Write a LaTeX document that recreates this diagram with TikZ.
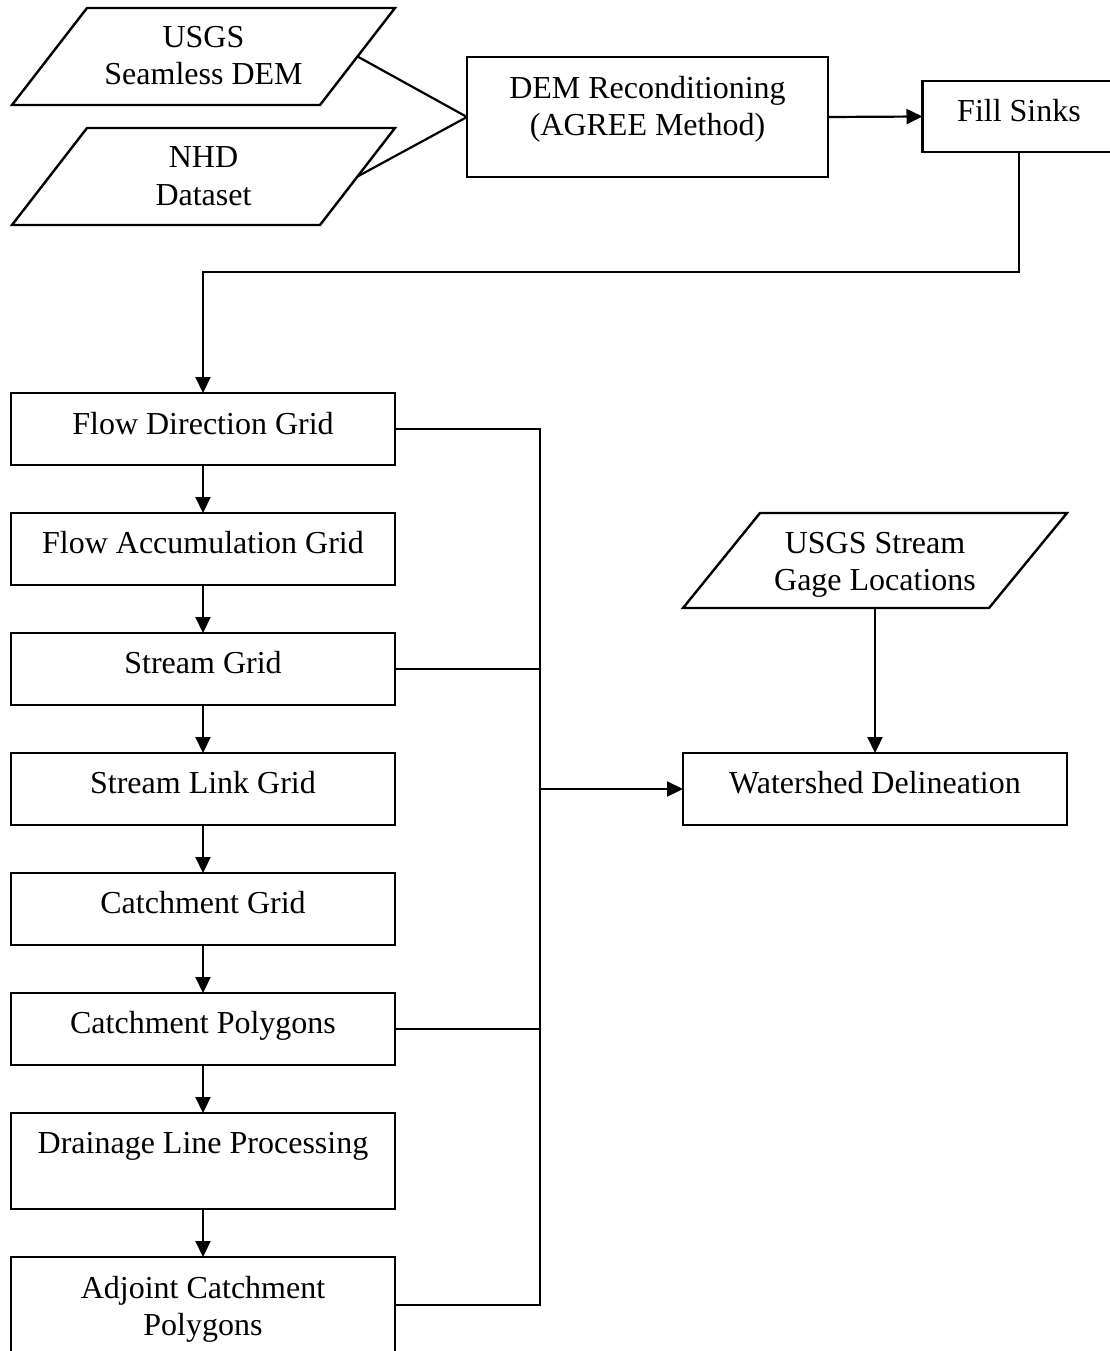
\documentclass[tikz,border=0pt]{standalone}
\usepackage{fontspec}
\setmainfont{Liberation Serif}
\usetikzlibrary{arrows.meta}
\begin{document}
\begin{tikzpicture}[x=1pt,y=-1pt,
  every node/.style={inner sep=0pt, outer sep=0pt},
  boxnode/.style={draw, line width=2.4pt, rectangle, anchor=north west},
  stdbox/.style={boxnode, minimum width=384pt, minimum height=72pt},
  txt/.style={anchor=base, align=center, font=\fontsize{32}{37}\selectfont},
  conn/.style={line width=2.2pt},
  arr/.style={line width=2.2pt, -{Triangle[length=16pt,width=15pt]}},
  para/.style={draw, line width=2.4pt, line join=miter}
]
\useasboundingbox (0,0) rectangle (1110,1351);

% ---- input parallelograms (top left) ----
% (two-line texts: the base anchor is the baseline of the last line)
\draw[para] (12,105) -- (87,8) -- (395,8) -- (320,105) -- cycle;
\node[txt] (usgs) at (203.5,85) {USGS\\Seamless DEM};
\coordinate (usgsR) at (357.5,56.5);

\draw[para] (12,225) -- (87,128) -- (395,128) -- (320,225) -- cycle;
\node[txt] (nhd) at (203.5,205) {NHD\\Dataset};
\coordinate (nhdR) at (357.5,176.5);

% ---- DEM reconditioning and fill sinks ----
\node[boxnode, minimum width=361pt, minimum height=120pt] (dem) at (467,57) {};
\node[txt] (demT) at ([yshift=-79pt]dem.north) {DEM Reconditioning\\(AGREE Method)};

\node[boxnode, minimum width=193pt, minimum height=71pt] (fs) at (922.5,81) {};
\node[txt] (fsT) at ([yshift=-41pt]fs.north) {Fill Sinks};

% ---- left column ----
\node[stdbox] (fd) at (11,393) {};
\node[txt] (fdT) at ([yshift=-41pt]fd.north) {Flow Direction Grid};
\node[stdbox] (fa) at (11,513) {};
\node[txt] (faT) at ([yshift=-40pt]fa.north) {Flow Accumulation Grid};
\node[stdbox] (sg) at (11,633) {};
\node[txt] (sgT) at ([yshift=-40pt]sg.north) {Stream Grid};
\node[stdbox] (sl) at (11,753) {};
\node[txt] (slT) at ([yshift=-40pt]sl.north) {Stream Link Grid};
\node[stdbox] (cg) at (11,873) {};
\node[txt] (cgT) at ([yshift=-40pt]cg.north) {Catchment Grid};
\node[stdbox] (cp) at (11,993) {};
\node[txt] (cpT) at ([yshift=-40pt]cp.north) {Catchment Polygons};
\node[stdbox, minimum height=96pt] (dl) at (11,1113) {};
\node[txt] (dlT) at ([yshift=-40pt]dl.north) {Drainage Line Processing};
\node[stdbox, minimum height=96pt] (ac) at (11,1257) {};
\node[txt] (acT) at ([yshift=-78pt]ac.north) {Adjoint Catchment\\Polygons};

% ---- right side ----
\draw[para] (683,608) -- (760,513) -- (1067,513) -- (989,608) -- cycle;
\node[txt] (gage) at (875,590) {USGS Stream\\Gage Locations};
\coordinate (gageS) at (875,608);

\node[boxnode, minimum width=384pt, minimum height=72pt] (wd) at (683,753) {};
\node[txt] (wdT) at ([yshift=-40pt]wd.north) {Watershed Delineation};

\coordinate (busx) at (540,0);

% ---- connectors ----
\draw[conn] (usgsR) -- (dem.west);
\draw[conn] (nhdR) -- (dem.west);
\draw[arr] (dem.east) -- (fs.west);
\draw[arr] (fs.south) -- ++(0,120) -| (fd.north);

\draw[arr] (fd.south) -- (fa.north);
\draw[arr] (fa.south) -- (sg.north);
\draw[arr] (sg.south) -- (sl.north);
\draw[arr] (sl.south) -- (cg.north);
\draw[arr] (cg.south) -- (cp.north);
\draw[arr] (cp.south) -- (dl.north);
\draw[arr] (dl.south) -- (ac.north);

\draw[conn] (fd.east) -| (ac.east -| busx) -- (ac.east);
\draw[conn] (sg.east) -- (sg.east -| busx);
\draw[conn] (cp.east) -- (cp.east -| busx);
\draw[arr] (wd.west -| busx) -- (wd.west);

\draw[arr] (gageS) -- (wd.north);
\end{tikzpicture}
\end{document}
